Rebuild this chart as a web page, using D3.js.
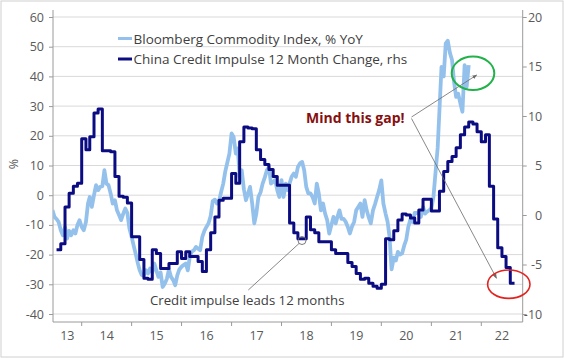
<!DOCTYPE html>
<html><head><meta charset="utf-8">
<script src="https://cdn.jsdelivr.net/npm/d3@7"></script>
<style>
html,body{margin:0;padding:0;background:#fff;}
svg{display:block;font-family:"Open Sans",sans-serif;}
</style></head><body>
<svg id="chart" width="564" height="358"></svg>
<script>
// ---- DATA ----
// China Credit Impulse 12M change (rhs), monthly, shifted 12m forward, starting Jul 2013
const creditStart = [2013, 6];
const creditImpulse = [
 -3.5,-2.9,0.8,2.2,2.9,3.2,
 7.7,6.6,7.9,10.3,10.7,6.5,6.5,6.4,3.9,1.9,1.8,1.2,
 -2.2,-2.2,-4.5,-6.4,-6.5,-3.5,-3.9,-5.4,-5.4,-4.9,-4.9,-3.7,
 -4.4,-3.7,-4.2,-4.2,-4.7,-5.7,-3.5,-1.8,-0.2,1.5,1.7,1.7,
 4.2,3.2,7.4,8.9,8.8,8.7,6.6,5.6,5.1,4.6,3.9,3.0,
 3.0,3.0,-0.8,-1.8,-2.4,-2.4,-0.2,-1.5,-1.8,-2.7,-2.7,-2.7,
 -3.5,-3.9,-3.9,-3.9,-4.8,-5.2,-5.9,-6.5,-6.4,-6.9,-7.2,-7.4,
 -7.0,-2.4,-2.5,-1.6,-0.5,0.1,0.0,-0.3,-0.8,0.5,1.6,1.6,
 0.4,0.4,2.4,4.4,5.4,5.9,6.8,8.1,8.9,9.4,9.2,8.4,
 7.4,8.1,2.9,-0.4,-3.3,-4.2,-5.3,-6.9
];
// Bloomberg Commodity Index % YoY (lhs), semi-monthly (1st / 16th), starting Jun 2013
const bcomStart = [2013, 5];
const bcomYoY = [
 -5,-7.3,-8,-9,-11.8,-13.5,-10.7,-14.6,-12,-13.5,-11.8,-12.9,-10,-8.4,
 -10.7,-11.8,-9,-2.8,-0.6,-3.9,0,3.4,1.7,2.8,3,8.4,3.9,3.4,0.5,-2.8,
 -1.7,-5.1,-6.7,-8.4,-6.2,-4.5,-6,-11.2,-14,-17,-20,-23,-25.3,-26.9,
 -27,-25.3,-26.4,-24.7,-26,-23,-25.3,-27.5,-26,-30.9,-29.7,-28.1,-25,-27.5,
 -28.6,-30.3,-27,-25,-24.1,-23.5,-23,-25.3,-20.8,-19,-18.5,-17.4,-18,-18.5,
 -14,-12,-10.7,-9.5,-7,-2,-1.5,-2.8,-2.2,1,3.9,8,11,14,
 20.8,19.6,14,15.7,6.2,8.4,2,-1.7,0.5,2.8,-3,-9.5,-6.2,-0.6,
 1,3.9,6,8.4,9.5,3.9,4.5,5.1,1.7,-0.6,5.1,-0.6,3.9,1.7,
 3.9,6.2,7.3,6.2,9.5,10.7,11.2,8.4,2.8,0.6,0.6,-0.6,-2.8,3.9,
 0.5,-5.1,-2.8,-6.2,-8.4,-12.9,-10,-7.3,-9.5,-7,-5.1,-8,-8,-9,
 -10.7,-12.9,-10.5,-9,-5.1,-4,-2.8,-7.3,-1.7,-5.1,-7.5,-9.5,-5.1,-3,
 -0.6,1.7,5,-2.8,-6.2,-9,-14,-25,-21,-22,-19.1,-20,-19.6,-17,
 -15,-10.7,-8,-9,-6,-6,-6.2,-7.3,-3.9,-6.2,-5.5,-5.1,-4.5,-0.6,
 8,16,28.6,43.2,40,51.1,52,48,45.5,38,33.1,34.2,30.9,28.1,
 43.8,36.5,43.8
];
const yearLabels = ["13","14","15","16","17","18","19","20","21","22"];
const leftTicks = [-40,-30,-20,-10,0,10,20,30,40,50,60];
const rightTicks = [-10,-5,0,5,10,15,20];
const legendLabels = ["Bloomberg Commodity Index, % YoY", "China Credit Impulse 12 Month Change, rhs"];
const colors = {bcom:"#94c1ec", credit:"#0c0c82", grid:"#d9d9d9", axis:"#9a9a9a", text:"#595959"};

// ---- SETUP ----
const svg = d3.select("#chart");
const L = 53, R = 522.7, T = 10, B = 322;
const x = d3.scaleTime().domain([new Date(2014,0,1), new Date(2022,0,1)]).range([81.7, 481.3]);
const yL = d3.scaleLinear().domain([-40, 60]).range([314, 17]);
const yR = d3.scaleLinear().domain([-10, 20]).range([314, 17]);

svg.append("rect").attr("x",1).attr("y",1).attr("width",562).attr("height",356)
  .attr("fill","#fff").attr("stroke","#d0d0d0").attr("stroke-width",1);

const defs = svg.append("defs");
defs.append("clipPath").attr("id","plot").append("rect")
  .attr("x",L).attr("y",T).attr("width",R-L).attr("height",B-T);
defs.append("marker").attr("id","arr").attr("viewBox","0 0 10 10")
  .attr("refX",9).attr("refY",5).attr("markerWidth",6).attr("markerHeight",6)
  .attr("orient","auto").append("path").attr("d","M0,1 L10,5 L0,9 z").attr("fill","#6a6a6a");

// gridlines
svg.append("g").selectAll("line").data(leftTicks).join("line")
  .attr("x1",L).attr("x2",R).attr("y1",d=>yL(d)).attr("y2",d=>yL(d))
  .attr("stroke",colors.grid).attr("stroke-width",1);

// axes
const fmt = d => String(d);
const axL = svg.append("g").attr("transform",`translate(${L},0)`)
  .call(d3.axisLeft(yL).tickValues(leftTicks).tickFormat(fmt).tickSize(4).tickPadding(5));
const axR = svg.append("g").attr("transform",`translate(${R},0)`)
  .call(d3.axisRight(yR).tickValues(rightTicks).tickFormat(fmt).tickSize(4).tickPadding(5));
[axL, axR].forEach(a=>{
  a.select(".domain").remove();
  a.selectAll("line").attr("stroke",colors.axis);
  a.selectAll("text").attr("fill",colors.text).style("font-size","12.5px").style("font-family","Open Sans");
});
axR.selectAll("text").attr("text-anchor","end").attr("x",19.5);

svg.append("line").attr("x1",L).attr("x2",L).attr("y1",T).attr("y2",B).attr("stroke",colors.axis);
svg.append("line").attr("x1",R).attr("x2",R).attr("y1",T).attr("y2",B).attr("stroke",colors.axis);
svg.append("line").attr("x1",L).attr("x2",R).attr("y1",B).attr("y2",B).attr("stroke",colors.axis);

// x ticks at year starts
const yearStarts = yearLabels.slice(1).map(s=>new Date(2000+ +s,0,1));
svg.append("g").selectAll("line").data(yearStarts).join("line")
  .attr("x1",d=>x(d)).attr("x2",d=>x(d)).attr("y1",B).attr("y2",B+4).attr("stroke",colors.axis);
svg.append("g").selectAll("text").data(yearLabels).join("text")
  .attr("x",d=>{
    const a = Math.max(L, x(new Date(2000+ +d,0,1)));
    const b = Math.min(R, x(new Date(2001+ +d,0,1)));
    return (a+b)/2;
  })
  .attr("y",340).attr("text-anchor","middle").attr("fill",colors.text)
  .style("font-size","12.5px").text(d=>d);

// y title
svg.append("text").attr("transform","translate(18,164) rotate(-90)")
  .attr("text-anchor","middle").attr("fill",colors.text).style("font-size","12.5px").text("%");

// ---- SERIES ----
const bcomData = bcomYoY.map((v,i)=>({d:new Date(bcomStart[0], bcomStart[1]+Math.floor(i/2), i%2?16:1), v}));
const creditData = creditImpulse.map((v,i)=>({d:new Date(creditStart[0], creditStart[1]+i, 1), v}));
const creditStep = creditData.concat([{d:new Date(creditStart[0], creditStart[1]+creditImpulse.length, 1), v:creditImpulse[creditImpulse.length-1]}]);

const gPlot = svg.append("g").attr("clip-path","url(#plot)");
gPlot.append("path").datum(bcomData)
  .attr("d", d3.line().x(d=>x(d.d)).y(d=>yL(d.v)))
  .attr("fill","none").attr("stroke",colors.bcom).attr("stroke-width",3.8).attr("stroke-linejoin","round");
gPlot.append("path").datum(creditStep)
  .attr("d", d3.line().curve(d3.curveStepAfter).x(d=>x(d.d)).y(d=>yR(d.v)))
  .attr("fill","none").attr("stroke",colors.credit).attr("stroke-width",3).attr("stroke-linejoin","round");

// ---- LEGEND ----
const leg = svg.append("g");
[colors.bcom, colors.credit].forEach((c,i)=>{
  leg.append("line").attr("x1",118).attr("x2",132).attr("y1",38.5+i*20.5).attr("y2",38.5+i*20.5)
    .attr("stroke",c).attr("stroke-width",3);
  leg.append("text").attr("x",133.5).attr("y",43.5+i*20.5).attr("fill","#404040")
    .style("font-size","13.5px").text(legendLabels[i]);
});

// ---- ANNOTATIONS ----
svg.append("text").attr("x",306).attr("y",123.3).attr("fill","#861010")
  .style("font-size","14px").style("font-weight","bold").text("Mind this gap!");
svg.append("line").attr("x1",411.5).attr("y1",117).attr("x2",476.7).attr("y2",75)
  .attr("stroke","#6a6a6a").attr("stroke-width",0.8).attr("marker-end","url(#arr)");
svg.append("line").attr("x1",411.5).attr("y1",118.5).attr("x2",496.5).attr("y2",278.3)
  .attr("stroke","#6a6a6a").attr("stroke-width",0.8).attr("marker-end","url(#arr)");
svg.append("ellipse").attr("cx",473).attr("cy",73.3).attr("rx",21.3).attr("ry",16.7)
  .attr("fill","none").attr("stroke","#22b24a").attr("stroke-width",2);
svg.append("ellipse").attr("cx",508.8).attr("cy",284.2).attr("rx",21.2).attr("ry",14.2)
  .attr("fill","none").attr("stroke","#e3231f").attr("stroke-width",1.6);

svg.append("circle").attr("cx",302).attr("cy",240.5).attr("r",4)
  .attr("fill","none").attr("stroke","#6a6a6a").attr("stroke-width",0.9);
svg.append("line").attr("x1",248.3).attr("y1",290).attr("x2",299).attr("y2",243.5)
  .attr("stroke","#6a6a6a").attr("stroke-width",0.8);
svg.append("text").attr("x",150).attr("y",305).attr("fill","#404040")
  .style("font-size","13.2px").text("Credit impulse leads 12 months");
</script>
</body></html>
